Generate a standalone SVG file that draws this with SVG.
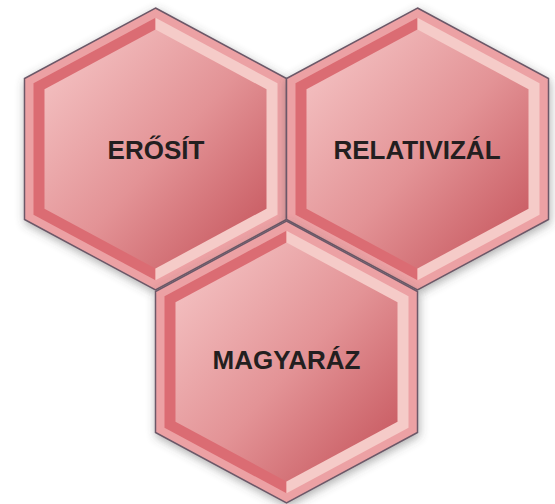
<svg xmlns="http://www.w3.org/2000/svg" xmlns:xlink="http://www.w3.org/1999/xlink" width="555" height="504" viewBox="0 0 555 504">
  <defs>
    <style>
      .outer { fill: #eca1a4; stroke: #6c5868; stroke-width: 1.5; stroke-linejoin: miter; }
      .bev-dark { fill: #db6c73; }
      .bev-light { fill: #f5cbc8; }
      .face { fill: url(#faceGrad); }
      .label { font-family: "Liberation Sans", Arial, sans-serif; font-weight: bold; font-size: 26px; fill: #231f20; text-anchor: middle; }
    </style>
    <linearGradient id="faceGrad" x1="0.15" y1="0.1" x2="0.95" y2="0.9">
      <stop offset="0" stop-color="#f2bcbd"/>
      <stop offset="0.5" stop-color="#e39396"/>
      <stop offset="1" stop-color="#c85a61"/>
    </linearGradient>
    <filter id="shadow" x="-20%" y="-20%" width="140%" height="140%">
      <feGaussianBlur in="SourceAlpha" stdDeviation="5"/>
      <feOffset dx="1" dy="3" result="b"/>
      <feFlood flood-color="#4a4a4a" flood-opacity="0.45"/>
      <feComposite in2="b" operator="in"/>
      <feMerge>
        <feMergeNode/>
        <feMergeNode in="SourceGraphic"/>
      </feMerge>
    </filter>
    <g id="hex">
      <polygon class="outer" filter="url(#shadow)" points="0,-141 131,-70.5 131,70.5 0,141 -131,70.5 -131,-70.5"/>
      <polygon class="bev-dark" points="0,-131.3 -122,-65.7 -122,65.7 0,131.3"/>
      <polygon class="bev-light" points="0,-131.3 122,-65.7 122,65.7 0,131.3"/>
      <polygon class="face" points="0,-119.5 111,-59.7 111,59.7 0,119.5 -111,59.7 -111,-59.7"/>
    </g>
  </defs>
  <rect width="555" height="504" fill="#ffffff"/>
  <g id="connectors"></g>
  <g id="node-erosit">
    <use href="#hex" xlink:href="#hex" transform="translate(155.5,149)"/>
    <text class="label" x="156" y="159">ERŐSÍT</text>
  </g>
  <g id="node-relativizal">
    <use href="#hex" xlink:href="#hex" transform="translate(417.5,149)"/>
    <text class="label" x="417" y="158.5">RELATIVIZÁL</text>
  </g>
  <g id="node-magyaraz">
    <use href="#hex" xlink:href="#hex" transform="translate(286.5,362)"/>
    <text class="label" x="286.5" y="369">MAGYARÁZ</text>
  </g>
</svg>
